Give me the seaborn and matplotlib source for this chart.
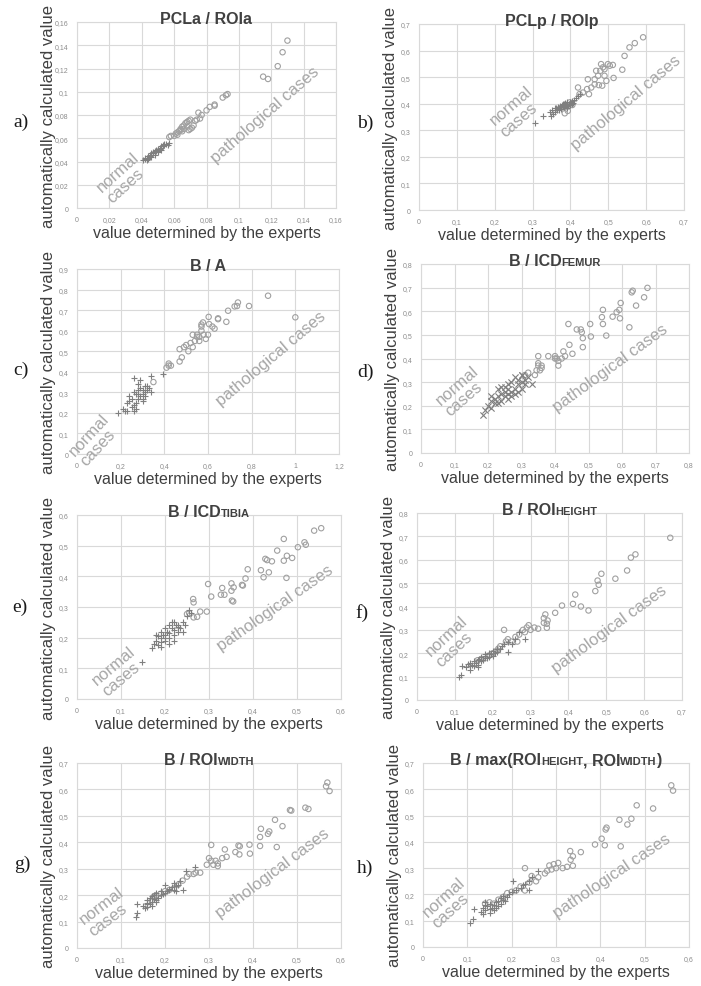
import matplotlib
matplotlib.use("Agg")
import matplotlib.pyplot as plt
from matplotlib.ticker import MultipleLocator, FuncFormatter
import seaborn as sns

# ─── DATA ──────────────────────────────────────────────────────────────────────
# a) PCLa / ROIa
a_norm_x = [0.041, 0.042, 0.042, 0.043, 0.043, 0.044, 0.044, 0.045, 0.045, 0.046, 0.046, 0.046,
            0.047, 0.047, 0.048, 0.048, 0.048, 0.049, 0.049, 0.050, 0.050, 0.050, 0.050, 0.051,
            0.051, 0.052, 0.052, 0.052, 0.053, 0.053, 0.054, 0.054, 0.055, 0.056, 0.057]
a_norm_y = [0.041, 0.042, 0.043, 0.041, 0.043, 0.042, 0.045, 0.045, 0.046, 0.044, 0.046, 0.047,
            0.047, 0.048, 0.046, 0.048, 0.049, 0.049, 0.050, 0.048, 0.050, 0.051, 0.049, 0.051,
            0.052, 0.050, 0.052, 0.053, 0.053, 0.054, 0.054, 0.055, 0.055, 0.054, 0.056]
a_path_x = [0.057, 0.058, 0.060, 0.061, 0.062, 0.062, 0.063, 0.064, 0.064, 0.065, 0.065, 0.066,
            0.066, 0.067, 0.068, 0.068, 0.069, 0.069, 0.070, 0.070, 0.071, 0.072, 0.073, 0.074,
            0.075, 0.076, 0.077, 0.080, 0.082, 0.085, 0.085, 0.090, 0.092, 0.093, 0.115, 0.118,
            0.124, 0.127, 0.130]
a_path_y = [0.061, 0.062, 0.062, 0.064, 0.065, 0.063, 0.066, 0.067, 0.068, 0.066, 0.070, 0.071,
            0.068, 0.073, 0.070, 0.074, 0.075, 0.067, 0.068, 0.076, 0.069, 0.071, 0.075, 0.076,
            0.082, 0.077, 0.080, 0.084, 0.087, 0.088, 0.089, 0.095, 0.097, 0.098, 0.113, 0.111,
            0.122, 0.134, 0.144]

# b) PCLp / ROIp
b_norm_x = [0.307, 0.327, 0.345, 0.348, 0.352, 0.355, 0.358, 0.362, 0.365, 0.368, 0.370, 0.372,
            0.375, 0.378, 0.380, 0.382, 0.384, 0.386, 0.388, 0.390, 0.392, 0.394, 0.396, 0.398,
            0.400, 0.403, 0.405, 0.408, 0.410, 0.415, 0.420, 0.425, 0.360, 0.370, 0.380, 0.390]
b_norm_y = [0.329, 0.352, 0.367, 0.355, 0.378, 0.360, 0.370, 0.382, 0.375, 0.388, 0.385, 0.392,
            0.380, 0.395, 0.390, 0.398, 0.388, 0.402, 0.392, 0.396, 0.405, 0.390, 0.400, 0.394,
            0.405, 0.398, 0.410, 0.402, 0.415, 0.420, 0.428, 0.435, 0.385, 0.378, 0.400, 0.385]
b_path_x = [0.385, 0.393, 0.398, 0.405, 0.420, 0.424, 0.433, 0.444, 0.446, 0.449, 0.455, 0.464,
            0.464, 0.468, 0.473, 0.475, 0.479, 0.481, 0.484, 0.486, 0.490, 0.490, 0.495, 0.499,
            0.504, 0.512, 0.514, 0.537, 0.543, 0.556, 0.570, 0.592]
b_path_y = [0.364, 0.373, 0.405, 0.395, 0.461, 0.436, 0.442, 0.455, 0.492, 0.436, 0.461, 0.492,
            0.473, 0.524, 0.505, 0.470, 0.524, 0.549, 0.468, 0.537, 0.505, 0.530, 0.486, 0.549,
            0.543, 0.546, 0.497, 0.528, 0.580, 0.612, 0.628, 0.650]

# c) B / A
c_norm_x = [0.19, 0.21, 0.23, 0.26, 0.24, 0.25, 0.26, 0.27, 0.27, 0.28, 0.28, 0.29, 0.29, 0.30,
            0.30, 0.31, 0.31, 0.32, 0.32, 0.33, 0.34, 0.25, 0.26, 0.28, 0.30, 0.27, 0.29, 0.31,
            0.22, 0.24, 0.26, 0.28, 0.395, 0.34, 0.30, 0.23]
c_norm_y = [0.20, 0.22, 0.21, 0.21, 0.26, 0.27, 0.24, 0.25, 0.29, 0.27, 0.31, 0.28, 0.32, 0.29,
            0.31, 0.30, 0.33, 0.31, 0.33, 0.32, 0.38, 0.23, 0.30, 0.34, 0.26, 0.22, 0.36, 0.28,
            0.21, 0.28, 0.37, 0.29, 0.39, 0.30, 0.27, 0.25]
c_path_x = [0.35, 0.41, 0.42, 0.42, 0.43, 0.47, 0.48, 0.47, 0.49, 0.50, 0.51, 0.52, 0.53, 0.53,
            0.54, 0.55, 0.56, 0.56, 0.57, 0.57, 0.577, 0.58, 0.59, 0.60, 0.603, 0.605, 0.62, 0.63,
            0.646, 0.646, 0.684, 0.692, 0.722, 0.733, 0.737, 0.788, 0.875, 1.00, 0.57, 0.55]
c_path_y = [0.35, 0.42, 0.43, 0.44, 0.43, 0.45, 0.47, 0.51, 0.52, 0.53, 0.50, 0.54, 0.58, 0.52,
            0.55, 0.57, 0.55, 0.57, 0.60, 0.62, 0.64, 0.58, 0.56, 0.58, 0.667, 0.632, 0.62, 0.61,
            0.656, 0.66, 0.643, 0.697, 0.718, 0.72, 0.737, 0.72, 0.77, 0.665, 0.63, 0.58]

# d) B / ICD femur
d_norm_x = [0.185, 0.19, 0.20, 0.21, 0.21, 0.22, 0.22, 0.23, 0.23, 0.24, 0.24, 0.25, 0.25, 0.25,
            0.26, 0.26, 0.26, 0.27, 0.27, 0.28, 0.28, 0.29, 0.29, 0.30, 0.30, 0.30, 0.31, 0.31,
            0.32, 0.33, 0.23, 0.27, 0.29, 0.24, 0.26, 0.21, 0.28, 0.30]
d_norm_y = [0.16, 0.18, 0.20, 0.22, 0.24, 0.21, 0.23, 0.24, 0.27, 0.22, 0.25, 0.26, 0.24, 0.28,
            0.25, 0.27, 0.23, 0.26, 0.30, 0.27, 0.32, 0.29, 0.31, 0.30, 0.33, 0.27, 0.31, 0.29,
            0.32, 0.29, 0.21, 0.24, 0.26, 0.28, 0.29, 0.19, 0.25, 0.33]
d_path_x = [0.31, 0.32, 0.34, 0.345, 0.35, 0.35, 0.35, 0.355, 0.36, 0.38, 0.40, 0.405, 0.41, 0.41,
            0.42, 0.425, 0.43, 0.44, 0.443, 0.452, 0.465, 0.477, 0.48, 0.483, 0.483, 0.505, 0.507,
            0.540, 0.543, 0.543, 0.553, 0.572, 0.584, 0.592, 0.594, 0.596, 0.622, 0.629, 0.632,
            0.642, 0.666, 0.676, 0.36, 0.40]
d_path_y = [0.33, 0.34, 0.33, 0.35, 0.37, 0.38, 0.41, 0.35, 0.37, 0.41, 0.40, 0.40, 0.37, 0.39,
            0.40, 0.43, 0.41, 0.546, 0.458, 0.42, 0.523, 0.523, 0.511, 0.486, 0.448, 0.546, 0.493,
            0.575, 0.606, 0.546, 0.497, 0.577, 0.596, 0.606, 0.570, 0.635, 0.532, 0.680, 0.687,
            0.624, 0.659, 0.699, 0.36, 0.41]

# e) B / ICD tibia
e_norm_x = [0.148, 0.17, 0.175, 0.18, 0.18, 0.185, 0.19, 0.19, 0.19, 0.195, 0.20, 0.20, 0.20,
            0.205, 0.21, 0.21, 0.21, 0.215, 0.22, 0.22, 0.22, 0.225, 0.23, 0.23, 0.235, 0.24, 0.24,
            0.245, 0.25, 0.255, 0.26, 0.19, 0.21, 0.23, 0.20, 0.22, 0.185, 0.215]
e_norm_y = [0.122, 0.165, 0.18, 0.19, 0.21, 0.175, 0.20, 0.22, 0.17, 0.21, 0.19, 0.23, 0.21,
            0.22, 0.20, 0.24, 0.18, 0.23, 0.21, 0.25, 0.19, 0.24, 0.22, 0.24, 0.23, 0.25, 0.22,
            0.24, 0.27, 0.29, 0.28, 0.185, 0.215, 0.235, 0.20, 0.225, 0.205, 0.25]
e_path_x = [0.25, 0.255, 0.265, 0.273, 0.28, 0.264, 0.265, 0.295, 0.298, 0.305, 0.327, 0.33,
            0.335, 0.351, 0.351, 0.352, 0.356, 0.355, 0.375, 0.377, 0.383, 0.388, 0.418, 0.424,
            0.428, 0.432, 0.436, 0.443, 0.455, 0.47, 0.47, 0.477, 0.476, 0.489, 0.502, 0.517,
            0.52, 0.539, 0.555]
e_path_y = [0.277, 0.28, 0.266, 0.268, 0.285, 0.326, 0.315, 0.285, 0.375, 0.334, 0.34, 0.362,
            0.34, 0.377, 0.353, 0.321, 0.364, 0.318, 0.372, 0.37, 0.393, 0.423, 0.42, 0.397,
            0.457, 0.453, 0.413, 0.449, 0.484, 0.522, 0.451, 0.467, 0.395, 0.46, 0.495, 0.511,
            0.503, 0.549, 0.557]

# f) B / ROI height
f_norm_x = [0.110, 0.116, 0.119, 0.13, 0.135, 0.14, 0.14, 0.145, 0.15, 0.15, 0.155, 0.16, 0.16,
            0.165, 0.17, 0.17, 0.175, 0.18, 0.18, 0.185, 0.19, 0.19, 0.195, 0.20, 0.20, 0.205,
            0.21, 0.22, 0.225, 0.23, 0.24, 0.25, 0.26, 0.27, 0.285, 0.24, 0.16, 0.14, 0.18, 0.21]
f_norm_y = [0.097, 0.105, 0.147, 0.14, 0.155, 0.13, 0.16, 0.15, 0.145, 0.165, 0.16, 0.17, 0.15,
            0.175, 0.165, 0.185, 0.17, 0.18, 0.19, 0.18, 0.20, 0.185, 0.195, 0.21, 0.19, 0.20,
            0.22, 0.22, 0.23, 0.24, 0.25, 0.24, 0.26, 0.29, 0.26, 0.205, 0.14, 0.145, 0.195, 0.205]
f_path_x = [0.16, 0.17, 0.19, 0.20, 0.21, 0.215, 0.22, 0.23, 0.235, 0.24, 0.25, 0.26, 0.265,
            0.27, 0.28, 0.285, 0.29, 0.295, 0.30, 0.31, 0.32, 0.335, 0.335, 0.339, 0.343, 0.343,
            0.345, 0.365, 0.383, 0.412, 0.418, 0.433, 0.453, 0.471, 0.477, 0.48, 0.487, 0.524,
            0.555, 0.565, 0.577, 0.669]
f_path_y = [0.17, 0.175, 0.19, 0.20, 0.21, 0.22, 0.23, 0.30, 0.25, 0.26, 0.25, 0.27, 0.25,
            0.28, 0.30, 0.29, 0.31, 0.32, 0.30, 0.31, 0.305, 0.35, 0.33, 0.366, 0.326, 0.309,
            0.34, 0.373, 0.404, 0.411, 0.451, 0.40, 0.383, 0.466, 0.511, 0.493, 0.54, 0.519,
            0.554, 0.609, 0.623, 0.694]

# g) B / ROI width
g_norm_x = [0.134, 0.137, 0.137, 0.155, 0.158, 0.16, 0.16, 0.165, 0.165, 0.17, 0.17, 0.175,
            0.175, 0.18, 0.18, 0.185, 0.19, 0.19, 0.195, 0.20, 0.20, 0.205, 0.21, 0.215, 0.22,
            0.22, 0.225, 0.23, 0.235, 0.24, 0.247, 0.268, 0.16, 0.17, 0.18, 0.21, 0.225, 0.15]
g_norm_y = [0.116, 0.131, 0.167, 0.15, 0.17, 0.155, 0.18, 0.165, 0.19, 0.175, 0.16, 0.185,
            0.20, 0.175, 0.21, 0.19, 0.20, 0.215, 0.205, 0.21, 0.24, 0.215, 0.22, 0.23, 0.22,
            0.245, 0.235, 0.24, 0.255, 0.22, 0.293, 0.306, 0.165, 0.195, 0.18, 0.225, 0.215, 0.16]
g_path_x = [0.17, 0.175, 0.18, 0.19, 0.20, 0.21, 0.22, 0.23, 0.24, 0.25, 0.255, 0.265, 0.27,
            0.28, 0.295, 0.30, 0.305, 0.305, 0.31, 0.315, 0.32, 0.32, 0.33, 0.336, 0.34, 0.36,
            0.367, 0.369, 0.37, 0.392, 0.393, 0.416, 0.418, 0.416, 0.434, 0.437, 0.45, 0.454,
            0.467, 0.484, 0.487, 0.519, 0.526, 0.566, 0.569, 0.574]
g_path_y = [0.18, 0.195, 0.20, 0.205, 0.215, 0.22, 0.225, 0.24, 0.255, 0.27, 0.28, 0.28, 0.285,
            0.285, 0.315, 0.34, 0.39, 0.33, 0.315, 0.33, 0.32, 0.31, 0.34, 0.373, 0.345, 0.363,
            0.388, 0.354, 0.385, 0.391, 0.357, 0.42, 0.451, 0.386, 0.432, 0.441, 0.485, 0.382,
            0.461, 0.522, 0.52, 0.531, 0.526, 0.612, 0.626, 0.594]

# h) B / max(ROI height, ROI width)
h_norm_x = [0.105, 0.112, 0.116, 0.13, 0.135, 0.135, 0.14, 0.14, 0.145, 0.15, 0.15, 0.155,
            0.16, 0.16, 0.165, 0.17, 0.17, 0.175, 0.18, 0.18, 0.185, 0.19, 0.195, 0.20, 0.204,
            0.21, 0.22, 0.225, 0.23, 0.238, 0.24, 0.245, 0.259, 0.15, 0.165, 0.14, 0.175]
h_norm_y = [0.091, 0.108, 0.146, 0.135, 0.15, 0.125, 0.16, 0.14, 0.155, 0.145, 0.165, 0.15,
            0.16, 0.14, 0.17, 0.155, 0.175, 0.165, 0.18, 0.195, 0.175, 0.19, 0.2, 0.21, 0.251,
            0.215, 0.225, 0.235, 0.24, 0.218, 0.25, 0.265, 0.288, 0.13, 0.15, 0.17, 0.185]
h_path_x = [0.14, 0.15, 0.16, 0.17, 0.18, 0.19, 0.20, 0.21, 0.22, 0.23, 0.23, 0.24, 0.245,
            0.255, 0.26, 0.275, 0.28, 0.285, 0.29, 0.295, 0.30, 0.305, 0.315, 0.325, 0.333,
            0.332, 0.338, 0.338, 0.356, 0.388, 0.403, 0.41, 0.414, 0.412, 0.443, 0.446, 0.461,
            0.47, 0.482, 0.519, 0.56, 0.564]
h_path_y = [0.165, 0.17, 0.165, 0.18, 0.19, 0.205, 0.21, 0.215, 0.23, 0.30, 0.215, 0.245, 0.27,
            0.25, 0.265, 0.28, 0.29, 0.31, 0.295, 0.315, 0.30, 0.32, 0.30, 0.305, 0.332, 0.365,
            0.345, 0.309, 0.361, 0.39, 0.412, 0.387, 0.454, 0.447, 0.484, 0.383, 0.466, 0.488,
            0.539, 0.527, 0.615, 0.595]

# title pieces: (text, font size) -> small caps parts are the smaller ones
a_title = [("PCLa / ROIa", 11.5)]
b_title = [("PCLp / ROIp", 11.5)]
c_title = [("B / A", 11.5)]
d_title = [("B / ICD", 11.5), ("FEMUR", 8)]
e_title = [("B / ICD", 11.5), ("TIBIA", 8)]
f_title = [("B / ROI", 11.5), ("HEIGHT", 8)]
g_title = [("B / ROI", 11.5), ("WIDTH", 8)]
h_title = [("B / max(ROI", 11.5), ("HEIGHT", 8), (", ROI", 11.5), ("WIDTH", 8), (")", 11.5)]

# ─── LAYOUT / STYLE ────────────────────────────────────────────────────────────
W, H = 701, 987
GRID_C = "#d9d9d9"
TICK_C = "#8c8c8c"
LABEL_C = "#404040"
NOTE_C = "#a6a6a6"
NORM_C = "#7f7f7f"
PATH_C = "#a0a0a0"

# letter, axes box in px (x0, y0, x1, y1), letter pos px, x max/step, y max/step,
# normal-note (ax frac x, y, angle), patho-note (ax frac x, y, angle), normal marker
panels = [
    ("a)", (77, 23, 336, 209), (21, 122), (0.16, 0.02), (0.16, 0.02), (0.179, 0.167, 42), (0.728, 0.507, 41), "+",
     a_title, a_norm_x, a_norm_y, a_path_x, a_path_y),
    ("b)", (419, 25, 684, 211), (365, 123), (0.7, 0.1), (0.7, 0.1), (0.367, 0.533, 41), (0.780, 0.582, 40), "+",
     b_title, b_norm_x, b_norm_y, b_path_x, b_path_y),
    ("c)", (77, 270, 339, 455), (21, 370), (1.2, 0.2), (0.9, 0.1), (0.067, 0.081, 47), (0.742, 0.517, 40), "+",
     c_title, c_norm_x, c_norm_y, c_path_x, c_path_y),
    ("d)", (421, 265, 689, 454), (366, 372), (0.8, 0.1), (0.8, 0.1), (0.153, 0.331, 41), (0.706, 0.454, 36), "x",
     d_title, d_norm_x, d_norm_y, d_path_x, d_path_y),
    ("e)", (77, 516, 341, 700), (20, 607), (0.6, 0.1), (0.6, 0.1), (0.158, 0.154, 40), (0.751, 0.498, 35), "+",
     e_title, e_norm_x, e_norm_y, e_path_x, e_path_y),
    ("f)", (417, 514, 682, 701), (362, 613), (0.7, 0.1), (0.8, 0.1), (0.132, 0.318, 43), (0.727, 0.380, 36), "+",
     f_title, f_norm_x, f_norm_y, f_path_x, f_path_y),
    ("g)", (77, 764, 341, 949), (22, 864), (0.6, 0.1), (0.7, 0.1), (0.111, 0.202, 37), (0.742, 0.410, 37), "+",
     g_title, g_norm_x, g_norm_y, g_path_x, g_path_y),
    ("h)", (423, 764, 689, 948), (365, 868), (0.6, 0.1), (0.7, 0.1), (0.096, 0.245, 42), (0.709, 0.389, 34), "+",
     h_title, h_norm_x, h_norm_y, h_path_x, h_path_y),
]

sns.set_theme(style="white")
plt.rcParams["font.family"] = ["Liberation Sans", "DejaVu Sans"]

fig = plt.figure(figsize=(W / 100, H / 100), dpi=100)
renderer = fig.canvas.get_renderer()


def comma_fmt(v, pos):
    return f"{v:g}".replace(".", ",")


def rich_title(box, parts):
    # pieces laid side by side, centred over the axes, baseline on the top gridline
    texts = [fig.text(0, 0, s, fontsize=sz, fontweight="bold", color=LABEL_C,
                      ha="left", va="baseline") for s, sz in parts]
    widths = [t.get_window_extent(renderer).width for t in texts]
    x = (box[0] + box[2]) / 2 - sum(widths) / 2
    for t, w in zip(texts, widths):
        t.set_position((x / W, 1 - (box[1] + 1) / H))
        x += w


# ─── DRAW ──────────────────────────────────────────────────────────────────────
for (letter, box, lpos, xs, ys, nnote, pnote, nmark,
     title, nx, ny, px, py) in panels:
    x0, y0, x1, y1 = box
    ax = fig.add_axes([x0 / W, 1 - y1 / H, (x1 - x0) / W, (y1 - y0) / H])

    sns.scatterplot(x=px, y=py, ax=ax, marker="o", s=15, facecolor="none",
                    edgecolor=PATH_C, linewidth=0.8, zorder=3)
    sns.scatterplot(x=nx, y=ny, ax=ax, marker=nmark, s=20, color=NORM_C,
                    linewidth=0.8, zorder=4)

    ax.set_xlim(0, xs[0])
    ax.set_ylim(0, ys[0])
    ax.xaxis.set_major_locator(MultipleLocator(xs[1]))
    ax.yaxis.set_major_locator(MultipleLocator(ys[1]))
    ax.xaxis.set_major_formatter(FuncFormatter(comma_fmt))
    ax.yaxis.set_major_formatter(FuncFormatter(comma_fmt))
    ax.grid(True, color=GRID_C, linewidth=0.8)
    ax.set_axisbelow(True)
    for sp in ax.spines.values():
        sp.set_color(GRID_C)
        sp.set_linewidth(0.8)
    ax.tick_params(axis="both", length=0, labelsize=5, colors=TICK_C)
    ax.tick_params(axis="x", pad=5.5)
    ax.tick_params(axis="y", pad=6)

    ax.set_xlabel("value determined by the experts", fontsize=11.5, color=LABEL_C)
    ax.set_ylabel("automatically calculated value", fontsize=12, color=LABEL_C)
    ax.xaxis.set_label_coords(0.5, -17 / (y1 - y0))
    ax.yaxis.set_label_coords(-21 / (x1 - x0), 0.5)

    ax.text(nnote[0], nnote[1], "normal\ncases", transform=ax.transAxes,
            rotation=nnote[2], rotation_mode="anchor", ha="center", va="center",
            multialignment="left", linespacing=1.0, fontsize=12, color=NOTE_C)
    ax.text(pnote[0], pnote[1], "pathological cases", transform=ax.transAxes,
            rotation=pnote[2], rotation_mode="anchor", ha="center", va="center",
            fontsize=12, color=NOTE_C)

    rich_title(box, title)
    fig.text(lpos[0] / W, 1 - lpos[1] / H, letter, fontsize=14, color="#1a1a1a",
             family=["Liberation Serif", "DejaVu Serif"], ha="center", va="center")

fig.savefig("out.png", dpi=100)
